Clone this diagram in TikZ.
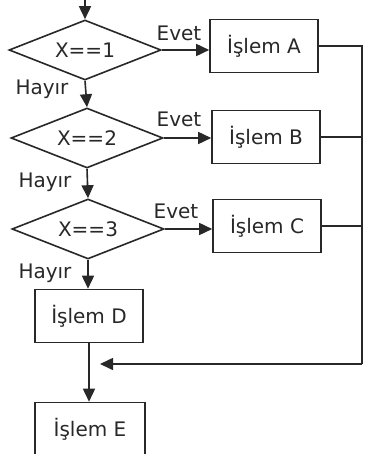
\documentclass[tikz,border=0pt]{standalone}
\usepackage{fontspec}
\setmainfont{DejaVu Sans}
\usetikzlibrary{shapes.geometric,arrows.meta}
\definecolor{ink}{RGB}{40,40,40}
\begin{document}
\begin{tikzpicture}[x=1pt,y=-1pt,
  font=\fontsize{20}{23}\selectfont, text=ink,
  line/.style={draw=ink, line width=1.6pt},
  arr/.style={line, -{Triangle[length=13pt,width=12pt]}},
  decision/.style={diamond, draw=ink, line width=1.6pt, inner sep=0pt, aspect=2.5,
    minimum width=152pt, minimum height=60pt},
  procbox/.style={rectangle, draw=ink, line width=1.6pt, minimum width=108pt, minimum height=53pt, inner sep=0pt},
  lbl/.style={inner sep=0pt}]
\clip (0,0) rectangle (366,454);
\fill[white] (0,0) rectangle (366,454);
\coordinate (start) at (85,0);
\node[decision] (d1) at (85,50) {X==1};
\node[decision] (d2) at (87,138) {X==2};
\node[decision] (d3) at (88,229) {X==3};
\node[procbox] (a) at (264,46) {İşlem A};
\node[procbox] (b) at (266,137) {İşlem B};
\node[procbox] (c) at (267,226) {İşlem C};
\node[procbox] (d) at (89,316) {İşlem D};
\node[procbox, minimum width=110pt] (e) at (90,429) {İşlem E};
\node[lbl] (ev1) at (179,33) {Evet};
\node[lbl] (ev2) at (179,119) {Evet};
\node[lbl] (ev3) at (176,211) {Evet};
\node[lbl] (h1) at (42,89) {Hayır};
\node[lbl] (h2) at (45,182) {Hayır};
\node[lbl] (h3) at (45,273) {Hayır};
\coordinate (ra) at (362,46);
\coordinate (rb) at (362,136);
\coordinate (rc) at (362,225);
\coordinate (rbot) at (362,364);
\coordinate (tip) at (100,364);
\draw[arr] (start) -- (d1.north);
\draw[arr] (d1.east) -- (d1.east -| a.west);
\draw[arr] (d2.east) -- (d2.east -| b.west);
\draw[arr] (d3.east) -- (d3.east -| c.west);
\draw[arr] (d1.south) -- (d2.north);
\draw[arr] (d2.south) -- (d3.north);
\draw[arr] (d3.south) -- (d3.south |- d.north);
\draw[arr] (d.south) -- (d.south |- e.north);
\draw[line] (a.east) -- (a.east -| ra) -- (rbot);
\draw[line] (b.east) -- (b.east -| rb);
\draw[line] (c.east) -- (c.east -| rc);
\draw[arr] (rbot) -- (tip);
\end{tikzpicture}
\end{document}
